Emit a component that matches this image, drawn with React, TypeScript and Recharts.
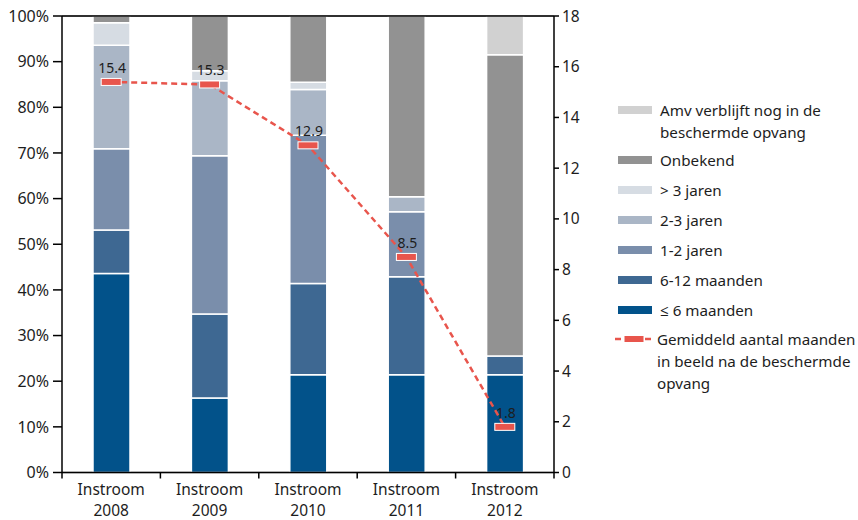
import React from 'react';
import { ComposedChart, Bar, Line, XAxis, YAxis, CartesianGrid, ReferenceLine, LabelList } from 'recharts';

const categories = ['2008', '2009', '2010', '2011', '2012'];
const le6 = [43.6, 16.3, 21.4, 21.4, 21.4];
const m6to12 = [9.5, 18.4, 20.0, 21.5, 4.1];
const j1to2 = [17.8, 34.7, 32.5, 14.2, 0];
const j2to3 = [22.7, 16.4, 10.0, 3.3, 0];
const gt3 = [4.9, 2.2, 1.6, 0, 0];
const onbekend = [1.5, 12.0, 14.5, 39.6, 66.0];
const amv = [0, 0, 0, 0, 8.5];
const avgMonths = [15.4, 15.3, 12.9, 8.5, 1.8];

const leftTicks = [0, 10, 20, 30, 40, 50, 60, 70, 80, 90, 100];
const rightTicks = [0, 2, 4, 6, 8, 10, 12, 14, 16, 18];

const C_LE6 = '#02528a';
const C_M612 = '#3e6892';
const C_J12 = '#7a8eab';
const C_J23 = '#aab6c6';
const C_GT3 = '#d6dce3';
const C_ONB = '#929292';
const C_AMV = '#d1d1d1';
const RED = '#e8554c';
const FONT = '"Noto Sans", "Open Sans", sans-serif';
const TXT = '#1d1d1d';

const data = categories.map((c, i) => ({
  name: c,
  le6: le6[i],
  m6to12: m6to12[i],
  j1to2: j1to2[i],
  j2to3: j2to3[i],
  gt3: gt3[i],
  onbekend: onbekend[i],
  amv: amv[i],
  avg: avgMonths[i],
}));

const XTick = (props: any) => {
  const { x, y, payload, index } = props;
  const half = payload && payload.offset ? payload.offset : 49.2;
  const last = index === categories.length - 1;
  return (
    <g>
      <line x1={x - half} x2={x - half} y1={y} y2={y + 6} stroke="#000" strokeWidth={1.5} />
      {last && <line x1={x + half} x2={x + half} y1={y} y2={y + 6} stroke="#000" strokeWidth={1.5} />}
      <text x={x} y={y + 22} textAnchor="middle" fontFamily={FONT} fontSize={15.5} fill={TXT}>Instroom</text>
      <text x={x} y={y + 43} textAnchor="middle" fontFamily={FONT} fontSize={15.5} fill={TXT}>{payload.value}</text>
    </g>
  );
};

const Marker = (props: any) => {
  const { cx, cy } = props;
  if (cx == null || cy == null) return null;
  return <rect x={cx - 10} y={cy - 3.5} width={20} height={7} fill={RED} stroke="#fff" strokeWidth={1} />;
};

const AvgLabel = (props: any) => {
  const { x, y, value } = props;
  return (
    <text x={x + 1} y={y - 9} textAnchor="middle" fontFamily={FONT} fontSize={14} fill={TXT}>
      {value}
    </text>
  );
};

const legendItems = [
  { lines: ['Amv verblijft nog in de', 'beschermde opvang'], color: C_AMV, top: 99 },
  { lines: ['Onbekend'], color: C_ONB, top: 149 },
  { lines: ['> 3 jaren'], color: C_GT3, top: 179 },
  { lines: ['2-3 jaren'], color: C_J23, top: 209 },
  { lines: ['1-2 jaren'], color: C_J12, top: 239 },
  { lines: ['6-12 maanden'], color: C_M612, top: 269 },
  { lines: ['\u2264 6 maanden'], color: C_LE6, top: 299 },
];

const Legend = () => (
  <div style={{ position: 'absolute', left: 0, top: 0, width: 858, height: 520, pointerEvents: 'none', fontFamily: FONT, fontSize: 15.2, color: TXT }}>
    {legendItems.map((it) => (
      <div key={it.lines[0]} style={{ position: 'absolute', left: 618, top: it.top, lineHeight: '22px' }}>
        <div style={{ position: 'absolute', left: 0, top: 7, width: 34, height: 8, background: it.color }} />
        <div style={{ position: 'absolute', left: 42, top: 0, whiteSpace: 'nowrap' }}>
          {it.lines.map((l, k) => (
            <div key={k}>{l}</div>
          ))}
        </div>
      </div>
    ))}
    <div style={{ position: 'absolute', left: 614, top: 328, lineHeight: '22px' }}>
      <svg width={40} height={22} style={{ position: 'absolute', left: 0, top: 0 }}>
        <line x1={1} x2={39} y1={11} y2={11} stroke={RED} strokeWidth={2.5} strokeDasharray="6 4" />
        <rect x={10} y={7.5} width={20} height={7} fill={RED} stroke="#fff" strokeWidth={1} />
      </svg>
      <div style={{ position: 'absolute', left: 43, top: 0, whiteSpace: 'nowrap' }}>
        <div>Gemiddeld aantal maanden</div>
        <div>in beeld na de beschermde</div>
        <div>opvang</div>
      </div>
    </div>
  </div>
);

export default function App() {
  const barStroke = { stroke: '#fff', strokeWidth: 1.5 };
  return (
    <div style={{ position: 'absolute', left: 0, top: 0, width: 858, height: 520, background: '#fff' }}>
      <ComposedChart
        width={858}
        height={520}
        data={data}
        margin={{ top: 16, right: 264, bottom: 7.5, left: 12 }}
        barSize={37}
      >
        <CartesianGrid vertical={false} stroke="#ababab" strokeWidth={1.5} />
        <XAxis
          dataKey="name"
          type="category"
          height={40}
          tickLine={false}
          tickSize={0}
          tickMargin={0}
          axisLine={{ stroke: '#000', strokeWidth: 1.5 }}
          tick={<XTick />}
          interval={0}
        />
        <YAxis
          yAxisId="l"
          width={50}
          domain={[0, 100]}
          ticks={leftTicks}
          tickFormatter={(v: number) => `${v}%`}
          tickSize={9}
          tickMargin={4}
          axisLine={{ stroke: '#000', strokeWidth: 1.5 }}
          tickLine={{ stroke: '#000', strokeWidth: 1.5 }}
          tick={{ fontFamily: FONT, fontSize: 16, fill: TXT }}
          allowDataOverflow
        />
        <YAxis
          yAxisId="r"
          orientation="right"
          width={40}
          domain={[0, 18]}
          ticks={rightTicks}
          tickSize={5}
          tickMargin={3}
          axisLine={{ stroke: '#000', strokeWidth: 1.5 }}
          tickLine={{ stroke: '#000', strokeWidth: 1.5 }}
          tick={{ fontFamily: FONT, fontSize: 15.5, fill: TXT }}
        />
        <Bar yAxisId="l" dataKey="le6" stackId="s" fill={C_LE6} {...barStroke} isAnimationActive={false} />
        <Bar yAxisId="l" dataKey="m6to12" stackId="s" fill={C_M612} {...barStroke} isAnimationActive={false} />
        <Bar yAxisId="l" dataKey="j1to2" stackId="s" fill={C_J12} {...barStroke} isAnimationActive={false} />
        <Bar yAxisId="l" dataKey="j2to3" stackId="s" fill={C_J23} {...barStroke} isAnimationActive={false} />
        <Bar yAxisId="l" dataKey="gt3" stackId="s" fill={C_GT3} {...barStroke} isAnimationActive={false} />
        <Bar yAxisId="l" dataKey="onbekend" stackId="s" fill={C_ONB} {...barStroke} isAnimationActive={false} />
        <Bar yAxisId="l" dataKey="amv" stackId="s" fill={C_AMV} {...barStroke} isAnimationActive={false} />
        <ReferenceLine yAxisId="l" y={100} stroke="#000" strokeWidth={1.5} />
        <Line
          yAxisId="r"
          dataKey="avg"
          stroke={RED}
          strokeWidth={2.5}
          strokeDasharray="6 4"
          dot={<Marker />}
          activeDot={false}
          isAnimationActive={false}
        >
          <LabelList dataKey="avg" content={<AvgLabel />} />
        </Line>
      </ComposedChart>
      <Legend />
    </div>
  );
}
